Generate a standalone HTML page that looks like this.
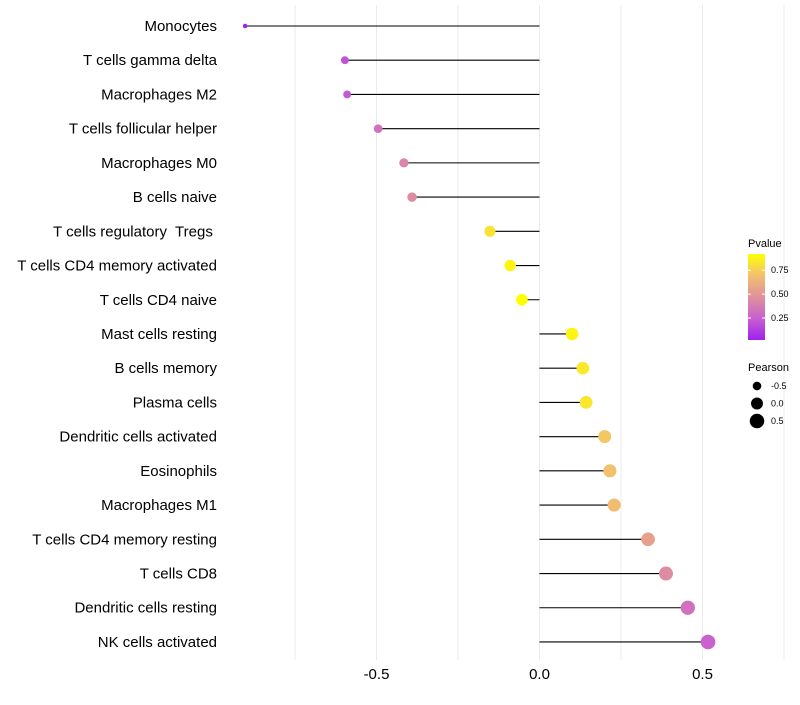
<!DOCTYPE html>
<html><head><meta charset="utf-8"><style>
body{margin:0;background:#fff;font-family:"Liberation Sans",sans-serif}
</style></head><body>
<svg id="chart" width="800" height="700" xmlns="http://www.w3.org/2000/svg" font-family="Liberation Sans, sans-serif"></svg>
<script>
const categories=["Monocytes","T cells gamma delta","Macrophages M2","T cells follicular helper","Macrophages M0","B cells naive","T cells regulatory\u00a0 Tregs\u00a0","T cells CD4 memory activated","T cells CD4 naive","Mast cells resting","B cells memory","Plasma cells","Dendritic cells activated","Eosinophils","Macrophages M1","T cells CD4 memory resting","T cells CD8","Dendritic cells resting","NK cells activated"];
const pearson=[-0.903,-0.597,-0.59,-0.495,-0.416,-0.391,-0.152,-0.09,-0.054,0.1,0.133,0.143,0.2,0.216,0.229,0.333,0.388,0.455,0.517];
const pvalues=[0.02,0.2,0.22,0.33,0.42,0.45,0.82,0.88,0.92,0.88,0.84,0.83,0.72,0.7,0.68,0.55,0.45,0.32,0.25];
const xTicks=[-0.5,0.0,0.5];
const xTickLabels=["-0.5","0.0","0.5"];
const pvTicks=[0.25,0.5,0.75];
const sizeTicks=[-0.5,0,0.5];

const svg=document.getElementById('chart');
const NS="http://www.w3.org/2000/svg";
function mk(t,a,p){const e=document.createElementNS(NS,t);for(const k in a)e.setAttribute(k,a[k]);(p||svg).appendChild(e);return e;}
const x=v=>539.5+v*326;
const y=i=>26+i*34.22;
const pMin=0.02,pMax=0.92;
const stops=[[160,32,240],[200,96,208],[224,144,156],[242,192,112],[255,255,0]];
function col(p){let t=(p-pMin)/(pMax-pMin);t=Math.max(0,Math.min(1,t))*(stops.length-1);const i=Math.min(Math.floor(t),stops.length-2),f=t-i;const c=stops[i].map((v,k)=>Math.round(v+(stops[i+1][k]-v)*f));return `rgb(${c})`;}
const rad=v=>Math.sqrt(Math.max(1.5,5+34*(v+0.903)));

[-0.75,-0.5,-0.25,0,0.25,0.5,0.75].forEach(v=>{const g=mk('line',{x1:x(v),x2:x(v),y1:5,y2:660,stroke:'#ebebeb','stroke-width':1});

});
xTicks.forEach((v,i)=>{const t=mk('text',{x:x(v),y:679,'font-size':15,'text-anchor':'middle',fill:'#000'});t.textContent=xTickLabels[i];

});

categories.forEach((c,i)=>{
const l=mk('text',{x:217,y:y(i)+5,'font-size':15,'text-anchor':'end',fill:'#000'});l.textContent=c;


const s=mk('line',{x1:x(0),x2:x(pearson[i]),y1:y(i),y2:y(i),stroke:'#000','stroke-width':1.1});


const d=mk('circle',{cx:x(pearson[i]),cy:y(i),r:rad(pearson[i]),fill:col(pvalues[i])});


});

const lt=mk('text',{x:748,y:247,'font-size':11});lt.textContent='Pvalue';


const defs=mk('defs',{});const gr=mk('linearGradient',{id:'pg',x1:0,y1:1,x2:0,y2:0},defs);
stops.forEach((s,i)=>mk('stop',{offset:i/(stops.length-1),'stop-color':`rgb(${s})`},gr));
const cb=mk('rect',{x:748,y:254,width:17,height:86,fill:'url(#pg)'});


const py=p=>340-(p-pMin)/(pMax-pMin)*86;
pvTicks.forEach(p=>{mk('line',{x1:748,x2:751,y1:py(p),y2:py(p),stroke:'#fff'});mk('line',{x1:762,x2:765,y1:py(p),y2:py(p),stroke:'#fff'});
const t=mk('text',{x:771,y:py(p)+3,'font-size':9});t.textContent=p.toFixed(2);

});
const st=mk('text',{x:748,y:371,'font-size':11});st.textContent='Pearson';


sizeTicks.forEach((v,i)=>{const cy=386+i*17.5;
const c=mk('circle',{cx:757,cy:cy,r:rad(v),fill:'#000'});


const t=mk('text',{x:771,y:cy+3,'font-size':9});t.textContent=v===0?'0.0':String(v);

});
</script>
</body></html>
